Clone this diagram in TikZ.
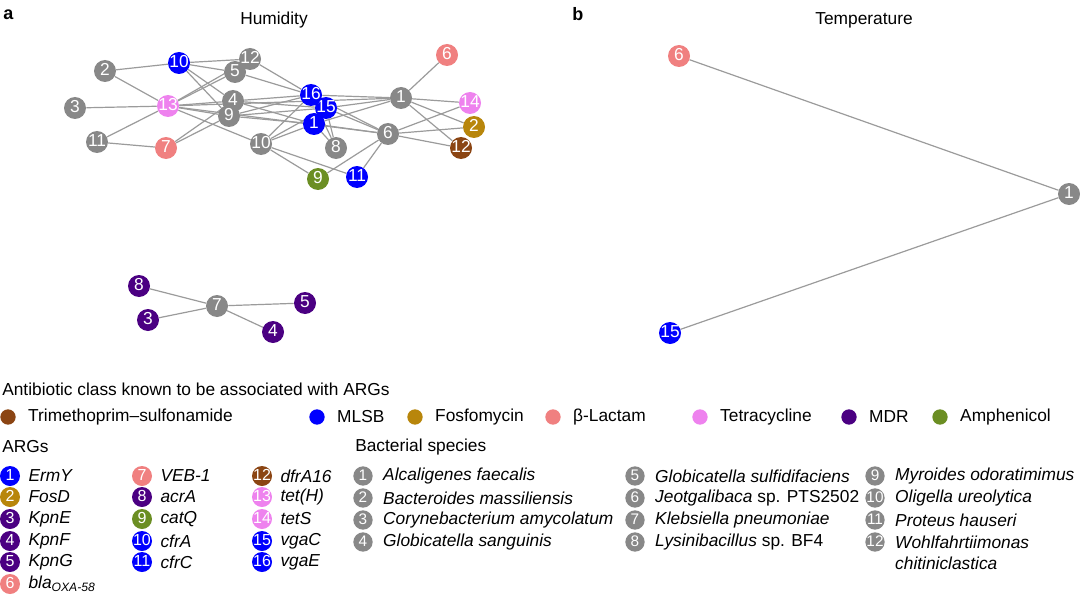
\documentclass[tikz,border=0pt]{standalone}
\usepackage{fontspec}
\setmainfont{Liberation Sans}
\usetikzlibrary{positioning, backgrounds}
\definecolor{edgegray}{RGB}{155,155,155}
\definecolor{bacgray}{RGB}{136,136,136}
\definecolor{mlsb}{RGB}{0,0,255}
\definecolor{fosfo}{RGB}{184,134,11}
\definecolor{lactam}{RGB}{240,128,128}
\definecolor{tetra}{RGB}{238,130,238}
\definecolor{mdr}{RGB}{75,0,130}
\definecolor{amphen}{RGB}{107,142,35}
\definecolor{trimeth}{RGB}{139,69,19}
\tikzset{x=0.75pt, y=-0.75pt, every node/.style={font=\fontsize{13}{15.5}\selectfont},
	gene/.style={circle, inner sep=0pt, minimum size=16.5pt, text=white, text height=1.3ex, text depth=0pt, font=\fontsize{13}{13}\selectfont},
	bac/.style={gene, fill=bacgray},
	link/.style={draw=edgegray, line width=0.9pt},
	classdot/.style={circle, inner sep=0pt, minimum size=11.5pt},
	legene/.style={gene, minimum size=15pt, font=\fontsize{12}{12}\selectfont},
	lebac/.style={legene, fill=bacgray, minimum size=14.5pt, font=\fontsize{11.5}{11.5}\selectfont},
	legtext/.style={inner sep=0pt, anchor=west}}

\begin{document}
\begin{tikzpicture}
	\useasboundingbox (0,0) rectangle (1080,599);
	% panel titles
	\node[anchor=west, inner sep=0pt, font=\fontsize{13.5}{14}\selectfont\bfseries] (label a) at (3,15) {a};
	\node[anchor=west, inner sep=0pt, font=\fontsize{13.5}{14}\selectfont\bfseries] (label b) at (572,14) {b};
	\node (title hum) at (274,20) {Humidity};
	\node (title temp) at (864,20) {Temperature};

	% humidity network, bacteria
	\node[bac] at (401,98) (Bac 1) {1};
	\node[bac] at (105,71) (Bac 2) {2};
	\node[bac] at (75,108) (Bac 3) {3};
	\node[bac] at (233,101) (Bac 4) {4};
	\node[bac] at (235,72) (Bac 5) {5};
	\node[bac] at (388,134) (Bac 6) {6};
	\node[bac] at (336,148) (Bac 8) {8};
	\node[bac] at (229,116) (Bac 9) {9};
	\node[bac] at (261,144) (Bac 10) {10};
	\node[bac] at (97,142) (Bac 11) {11};
	\node[bac] at (250,59) (Bac 12) {12};
	% humidity network, ARGs
	\node[gene, fill=mlsb] at (314,124) (ARG 1) {1};
	\node[gene, fill=fosfo] at (474,127) (ARG 2) {2};
	\node[gene, fill=lactam] at (447,55) (ARG 6) {6};
	\node[gene, fill=lactam] at (166,148) (ARG 7) {7};
	\node[gene, fill=amphen] at (318,179) (ARG 9) {9};
	\node[gene, fill=mlsb] at (179,63) (ARG 10) {10};
	\node[gene, fill=mlsb] at (357,177) (ARG 11) {11};
	\node[gene, fill=trimeth] at (461,148) (ARG 12) {12};
	\node[gene, fill=tetra] at (168,106) (ARG 13) {13};
	\node[gene, fill=tetra] at (470,103) (ARG 14) {14};
	\node[gene, fill=mlsb] at (326,108) (ARG 15) {15};
	\node[gene, fill=mlsb] at (311,95) (ARG 16) {16};
	% MDR cluster
	\node[bac] at (217,306) (M Bac 7) {7};
	\node[gene, fill=mdr] at (148,320) (M ARG 3) {3};
	\node[gene, fill=mdr] at (273,332) (M ARG 4) {4};
	\node[gene, fill=mdr] at (305,303) (M ARG 5) {5};
	\node[gene, fill=mdr] at (139,286) (M ARG 8) {8};
	% temperature network
	\node[bac] at (1069,194) (T Bac 1) {1};
	\node[gene, fill=lactam] at (679,56) (T ARG 6) {6};
	\node[gene, fill=mlsb] at (670,333) (T ARG 15) {15};

	\begin{scope}[on background layer]
	\draw[link]
		(Bac 2) edge (ARG 10) edge (ARG 13)
		(Bac 3) edge (ARG 13)
		(Bac 11) edge (ARG 13) edge (ARG 7)
		(Bac 12) edge (ARG 10) edge (ARG 13) edge (ARG 16)
		(Bac 5) edge (ARG 10) edge (ARG 13) edge (ARG 16)
		(Bac 4) edge (ARG 10) edge (ARG 13) edge (ARG 7) edge (ARG 16) edge (ARG 15) edge (ARG 1)
		(Bac 9) edge (ARG 10) edge (ARG 13) edge (ARG 7) edge (ARG 16) edge (ARG 15) edge (ARG 1)
		(Bac 10) edge (ARG 13) edge (ARG 16) edge (ARG 15) edge (ARG 1) edge (ARG 9) edge (ARG 11)
		(Bac 8) edge (ARG 16) edge (ARG 15) edge (ARG 1)
		(Bac 1) edge (ARG 13) edge (ARG 16) edge (ARG 15) edge (ARG 1) edge (ARG 6) edge (ARG 14) edge (ARG 2) edge (ARG 12)
		(Bac 6) edge (ARG 13) edge (ARG 16) edge (ARG 15) edge (ARG 1) edge (ARG 14) edge (ARG 2) edge (ARG 12) edge (ARG 9) edge (ARG 11)
		(M Bac 7) edge (M ARG 8) edge (M ARG 3) edge (M ARG 5) edge (M ARG 4)
		(T Bac 1) edge (T ARG 6) edge (T ARG 15);
	\end{scope}

	% antibiotic classes
	\node[legtext] (class title) at (2,389) {Antibiotic class known to be associated with ARGs};
	\node[classdot, fill=trimeth] at (8,417) (dot trimeth) {};
	\node[legtext, right=9pt of dot trimeth] {Trimethoprim--sulfonamide};
	\node[classdot, fill=mlsb] at (317,417) (dot mlsb) {};
	\node[legtext, right=9pt of dot mlsb] {MLSB};
	\node[classdot, fill=fosfo] at (415,417) (dot fosfo) {};
	\node[legtext, right=9pt of dot fosfo] {Fosfomycin};
	\node[classdot, fill=lactam] at (553,417) (dot lactam) {};
	\node[legtext, right=9pt of dot lactam] {β-Lactam};
	\node[classdot, fill=tetra] at (700,417) (dot tetra) {};
	\node[legtext, right=9pt of dot tetra] {Tetracycline};
	\node[classdot, fill=mdr] at (849,417) (dot mdr) {};
	\node[legtext, right=9pt of dot mdr] {MDR};
	\node[classdot, fill=amphen] at (940,417) (dot amphen) {};
	\node[legtext, right=9pt of dot amphen] {Amphenicol};

	% ARG legend
	\node[legtext] (arg title) at (2,447) {ARGs};
	\node[legene, fill=mlsb] at (10,476) (leg ARG 1) {1};
	\node[legtext, right=6pt of leg ARG 1] {\textit{ErmY}};
	\node[legene, fill=fosfo] at (10,497) (leg ARG 2) {2};
	\node[legtext, right=6pt of leg ARG 2] {\textit{FosD}};
	\node[legene, fill=mdr] at (10,519) (leg ARG 3) {3};
	\node[legtext, right=6pt of leg ARG 3] {\textit{KpnE}};
	\node[legene, fill=mdr] at (10,541) (leg ARG 4) {4};
	\node[legtext, right=6pt of leg ARG 4] {\textit{KpnF}};
	\node[legene, fill=mdr] at (10,562) (leg ARG 5) {5};
	\node[legtext, right=6pt of leg ARG 5] {\textit{KpnG}};
	\node[legene, fill=lactam] at (10,584) (leg ARG 6) {6};
	\node[legtext, right=6pt of leg ARG 6] {\textit{bla}\textsubscript{\textit{OXA-58}}};
	\node[legene, fill=lactam] at (142,476) (leg ARG 7) {7};
	\node[legtext, right=6pt of leg ARG 7] {\textit{VEB-1}};
	\node[legene, fill=mdr] at (142,497) (leg ARG 8) {8};
	\node[legtext, right=6pt of leg ARG 8] {\textit{acrA}};
	\node[legene, fill=amphen] at (142,519) (leg ARG 9) {9};
	\node[legtext, right=6pt of leg ARG 9] {\textit{catQ}};
	\node[legene, fill=mlsb] at (142,541) (leg ARG 10) {10};
	\node[legtext, right=6pt of leg ARG 10] {\textit{cfrA}};
	\node[legene, fill=mlsb] at (142,562) (leg ARG 11) {11};
	\node[legtext, right=6pt of leg ARG 11] {\textit{cfrC}};
	\node[legene, fill=trimeth] at (262,476) (leg ARG 12) {12};
	\node[legtext, right=6pt of leg ARG 12] {\textit{dfrA16}};
	\node[legene, fill=tetra] at (262,497) (leg ARG 13) {13};
	\node[legtext, right=6pt of leg ARG 13] {\textit{tet(H)}};
	\node[legene, fill=tetra] at (262,519) (leg ARG 14) {14};
	\node[legtext, right=6pt of leg ARG 14] {\textit{tetS}};
	\node[legene, fill=mlsb] at (262,541) (leg ARG 15) {15};
	\node[legtext, right=6pt of leg ARG 15] {\textit{vgaC}};
	\node[legene, fill=mlsb] at (262,562) (leg ARG 16) {16};
	\node[legtext, right=6pt of leg ARG 16] {\textit{vgaE}};

	% species legend
	\node[legtext] (bac title) at (355,447) {Bacterial species};
	\node[lebac] at (363,476) (leg Bac 1) {1};
	\node[legtext, right=7.5pt of leg Bac 1] {\textit{Alcaligenes faecalis}};
	\node[lebac] at (363,498) (leg Bac 2) {2};
	\node[legtext, right=7.5pt of leg Bac 2] {\textit{Bacteroides massiliensis}};
	\node[lebac] at (363,520) (leg Bac 3) {3};
	\node[legtext, right=7.5pt of leg Bac 3] {\textit{Corynebacterium amycolatum}};
	\node[lebac] at (363,542) (leg Bac 4) {4};
	\node[legtext, right=7.5pt of leg Bac 4] {\textit{Globicatella sanguinis}};
	\node[lebac] at (635,476) (leg Bac 5) {5};
	\node[legtext, right=7.5pt of leg Bac 5] {\textit{Globicatella sulfidifaciens}};
	\node[lebac] at (635,498) (leg Bac 6) {6};
	\node[legtext, right=7.5pt of leg Bac 6] {\textit{Jeotgalibaca} sp. PTS2502};
	\node[lebac] at (635,520) (leg Bac 7) {7};
	\node[legtext, right=7.5pt of leg Bac 7] {\textit{Klebsiella pneumoniae}};
	\node[lebac] at (635,542) (leg Bac 8) {8};
	\node[legtext, right=7.5pt of leg Bac 8] {\textit{Lysinibacillus} sp. BF4};
	\node[lebac] at (875,476) (leg Bac 9) {9};
	\node[legtext, right=7.5pt of leg Bac 9] {\textit{Myroides odoratimimus}};
	\node[lebac] at (875,498) (leg Bac 10) {10};
	\node[legtext, right=7.5pt of leg Bac 10] {\textit{Oligella ureolytica}};
	\node[lebac] at (875,520) (leg Bac 11) {11};
	\node[legtext, right=7.5pt of leg Bac 11] {\textit{Proteus hauseri}};
	\node[lebac] at (875,542) (leg Bac 12) {12};
	\node[legtext, right=7.5pt of leg Bac 12] (leg Bac 12 text) {\textit{Wohlfahrtiimonas}};
	\node[legtext] at (leg Bac 12 text.west |- 0,563) {\textit{chitiniclastica}};
\end{tikzpicture}
\end{document}
